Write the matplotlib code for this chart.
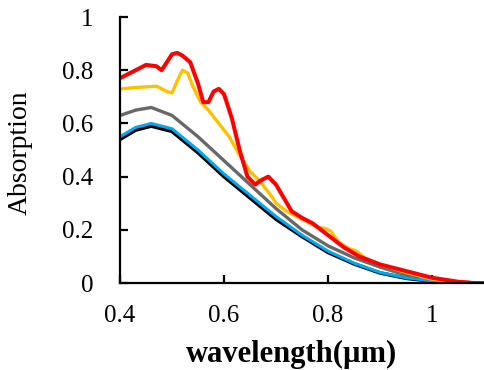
import matplotlib.pyplot as plt

# wavelength (um) and absorption
wl_smooth = [0.40, 0.43, 0.46, 0.50, 0.55, 0.60, 0.65, 0.70, 0.75, 0.80,
             0.85, 0.90, 0.95, 1.00, 1.05, 1.10]
black = [0.54, 0.575, 0.59, 0.57, 0.49, 0.40, 0.32, 0.24, 0.175, 0.115,
         0.072, 0.038, 0.018, 0.007, 0.002, 0.0]
blue = [0.55, 0.585, 0.60, 0.58, 0.50, 0.41, 0.33, 0.25, 0.18, 0.12,
        0.075, 0.04, 0.02, 0.008, 0.002, 0.0]
gray = [0.63, 0.65, 0.66, 0.63, 0.55, 0.46, 0.37, 0.28, 0.20, 0.14,
        0.095, 0.06, 0.03, 0.012, 0.003, 0.0]

wl_red = [0.40, 0.42, 0.45, 0.47, 0.48, 0.49, 0.50, 0.51, 0.52, 0.535,
          0.55, 0.56, 0.57, 0.58, 0.59, 0.60, 0.615, 0.63, 0.645, 0.66,
          0.67, 0.685, 0.70, 0.715, 0.73, 0.75, 0.77, 0.80, 0.83, 0.86,
          0.90, 0.95, 1.00, 1.05, 1.08, 1.10]
red = [0.77, 0.79, 0.82, 0.815, 0.80, 0.83, 0.86, 0.865, 0.855, 0.83,
       0.75, 0.68, 0.68, 0.72, 0.73, 0.71, 0.62, 0.50, 0.40, 0.37,
       0.385, 0.40, 0.37, 0.32, 0.27, 0.245, 0.225, 0.18, 0.135, 0.10,
       0.07, 0.045, 0.02, 0.005, 0.0, 0.0]

wl_orange = [0.40, 0.43, 0.47, 0.49, 0.50, 0.51, 0.52, 0.53, 0.54, 0.555,
             0.57, 0.59, 0.61, 0.63, 0.65, 0.67, 0.69, 0.70, 0.72, 0.75,
             0.78, 0.795, 0.805, 0.82, 0.84, 0.855, 0.87, 0.90, 0.95, 1.00,
             1.05, 1.10]
orange = [0.73, 0.735, 0.74, 0.72, 0.715, 0.76, 0.80, 0.79, 0.74, 0.68,
          0.65, 0.60, 0.55, 0.48, 0.42, 0.38, 0.33, 0.30, 0.27, 0.24,
          0.21, 0.205, 0.195, 0.155, 0.13, 0.12, 0.095, 0.07, 0.04, 0.015,
          0.003, 0.0]

plt.rcParams['font.family'] = ['Liberation Serif', 'DejaVu Serif']

fig = plt.figure(figsize=(4.84, 3.70), dpi=100)
ax = fig.add_axes([0.248, 0.235, 0.752, 0.719])

ax.plot(wl_smooth, gray, color='#686868', lw=2.4)
ax.plot(wl_smooth, black, color='black', lw=2.6)
ax.plot(wl_smooth, blue, color='#00a8f0', lw=2.2)
ax.plot(wl_orange, orange, color='#ffc000', lw=2.4)
ax.plot(wl_red, red, color='#ff0000', lw=2.9)

ax.set_xlim(0.4, 1.1)
ax.set_ylim(0, 1)
ax.set_xticks([0.4, 0.6, 0.8, 1.0])
ax.set_xticklabels(['0.4', '0.6', '0.8', '1'])
ax.set_yticks([0, 0.2, 0.4, 0.6, 0.8, 1.0])
ax.set_yticklabels(['0', '0.2', '0.4', '0.6', '0.8', '1'])

for s in ['top', 'right']:
    ax.spines[s].set_visible(False)
for s in ['left', 'bottom']:
    ax.spines[s].set_linewidth(1.6)
ax.tick_params(direction='in', length=6, width=1.6, labelsize=18)
ax.tick_params(axis='y', pad=19)
ax.tick_params(axis='x', pad=16)

ax.set_xlabel('wavelength(µm)', fontsize=22, fontweight='bold')
ax.xaxis.set_label_coords(0.47, -0.215)
ax.set_ylabel('Absorption', fontsize=20)
ax.yaxis.set_label_coords(-0.24, 0.49)

fig.savefig('out.png', dpi=100)
